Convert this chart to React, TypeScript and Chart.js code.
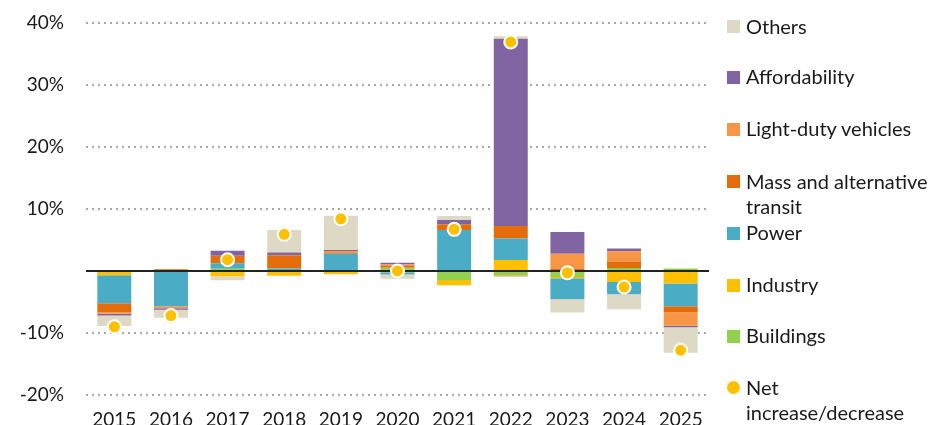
import React, { useEffect, useRef } from "react";
import { Chart, registerables } from "chart.js";

Chart.register(...registerables);

const years = ["2015", "2016", "2017", "2018", "2019", "2020", "2021", "2022", "2023", "2024", "2025"];
const buildings = [0, 0, 0.35, 0, 0.15, 0.5, -1.45, -0.7, -0.97, 0.48, 0.38];
const industry = [-0.7, 0, -0.85, -0.8, -0.55, -0.2, -0.86, 1.77, -0.2, -1.77, -2.04];
const power = [-4.5, -5.7, 0.9, 0.38, 2.6, -0.4, 6.6, 3.45, -3.4, -2.0, -3.66];
const massTransit = [-1.5, 0.25, 1.2, 2.15, 0.15, 0.27, 0.9, 2.0, 0.4, 0.97, -0.97];
const lightDuty = [-0.2, -0.3, 0, 0, 0.3, 0.27, 0, -0.2, 2.37, 1.72, -2.15];
const affordability = [-0.3, -0.25, 0.8, 0.43, 0.15, 0.27, 0.7, 30.2, 3.5, 0.43, -0.27];
const others = [-1.7, -1.3, -0.65, 3.65, 5.55, -0.65, 0.65, 0.4, -2.15, -2.42, -4.1];
const net = [-9.0, -7.2, 1.8, 5.9, 8.4, 0.0, 6.7, 36.9, -0.3, -2.6, -12.8];
const yTicks = [-20, -10, 0, 10, 20, 30, 40];

const COLORS = {
  buildings: "#92D050",
  industry: "#FFC000",
  power: "#4BACC6",
  mass: "#E46C0A",
  ldv: "#F79646",
  afford: "#8064A2",
  others: "#DDD9C4",
  net: "#FFC000",
};

const legendItems = [
  { label: ["Others"], color: COLORS.others, y: 26.7 },
  { label: ["Affordability"], color: COLORS.afford, y: 77.3 },
  { label: ["Light-duty vehicles"], color: COLORS.ldv, y: 129 },
  { label: ["Mass and alternative", "transit"], color: COLORS.mass, y: 181.7 },
  { label: ["Power"], color: COLORS.power, y: 233.3 },
  { label: ["Industry"], color: COLORS.industry, y: 285 },
  { label: ["Buildings"], color: COLORS.buildings, y: 336 },
  { label: ["Net", "increase/decrease"], color: COLORS.net, y: 387.7, circle: true },
];

const FONT = "Lato, 'Open Sans', sans-serif";

export default function App() {
  const ref = useRef<HTMLCanvasElement | null>(null);

  useEffect(() => {
    if (!ref.current) return;
    const zeroLine = {
      id: "zeroLine",
      afterDatasetDraw(chart: any, args: any) {
        if (args.index !== 0) return;
        const { ctx, chartArea, scales } = chart;
        const y = scales.y.getPixelForValue(0);
        ctx.save();
        ctx.strokeStyle = "#222";
        ctx.lineWidth = 2;
        ctx.beginPath();
        ctx.moveTo(chartArea.left, y);
        ctx.lineTo(chartArea.right, y);
        ctx.stroke();
        ctx.restore();
      },
    };
    const bar = (label: string, data: number[], color: string) => ({
      type: "bar" as const,
      label,
      data,
      backgroundColor: color,
      borderWidth: 0,
      stack: "s",
      barPercentage: 0.6,
      categoryPercentage: 1,
      order: 0,
    });
    const chart = new Chart(ref.current, {
      type: "bar",
      data: {
        labels: years,
        datasets: [
          bar("Buildings", buildings, COLORS.buildings),
          bar("Industry", industry, COLORS.industry),
          bar("Power", power, COLORS.power),
          bar("Mass and alternative transit", massTransit, COLORS.mass),
          bar("Light-duty vehicles", lightDuty, COLORS.ldv),
          bar("Affordability", affordability, COLORS.afford),
          bar("Others", others, COLORS.others),
          {
            type: "line" as const,
            label: "Net increase/decrease",
            data: net,
            showLine: false,
            pointRadius: 6.5,
            pointBackgroundColor: COLORS.net,
            pointBorderColor: "#ffffff",
            pointBorderWidth: 2,
            order: -1,
          } as any,
        ],
      },
      options: {
        animation: false,
        responsive: false,
        maintainAspectRatio: false,
        layout: { padding: { left: 0, right: 228, top: 22.7, bottom: 0 } },
        plugins: { legend: { display: false }, tooltip: { enabled: false } },
        scales: {
          x: {
            stacked: true,
            grid: { display: false },
            border: { display: false },
            ticks: { color: "#1a1a1a", font: { family: FONT, size: 19 }, padding: 5 },
            afterFit: (s: any) => {
              s.height = 30;
              s.paddingLeft = 0;
              s.paddingRight = 0;
            },
          },
          y: {
            stacked: true,
            min: -20,
            max: 40,
            afterBuildTicks: (s: any) => {
              s.ticks = yTicks.map((v) => ({ value: v }));
            },
            afterFit: (s: any) => {
              s.width = 86;
              s.paddingTop = 0;
              s.paddingBottom = 0;
            },
            grid: {
              drawTicks: false,
              color: (c: any) => (c.tick && c.tick.value === 0 ? "rgba(0,0,0,0)" : "#a6a6a6"),
              lineWidth: 2,
            },
            border: { display: false, dash: [2, 4] },
            ticks: {
              color: "#1a1a1a",
              font: { family: FONT, size: 19 },
              padding: 22,
              callback: (v: any) => (v === 0 ? "" : `${v}%`),
            },
          },
        },
      },
      plugins: [zeroLine],
    });
    return () => chart.destroy();
  }, []);

  return (
    <div style={{ position: "absolute", left: 0, top: 0, width: 937, height: 425, background: "#fff" }}>
      <canvas ref={ref} width={937} height={425} style={{ position: "absolute", left: 0, top: 0, width: 937, height: 425 }} />
      {legendItems.map((it, i) => (
        <div key={i}>
          <div
            style={{
              position: "absolute",
              left: 727,
              top: it.y - 6.5,
              width: 13,
              height: 13,
              background: it.color,
              borderRadius: it.circle ? "50%" : 0,
            }}
          />
          <div
            style={{
              position: "absolute",
              left: 746,
              top: it.y - 13,
              fontFamily: FONT,
              fontSize: 20,
              lineHeight: "25.5px",
              color: "#1a1a1a",
              whiteSpace: "nowrap",
            }}
          >
            {it.label.map((l, j) => (
              <div key={j}>{l}</div>
            ))}
          </div>
        </div>
      ))}
    </div>
  );
}
